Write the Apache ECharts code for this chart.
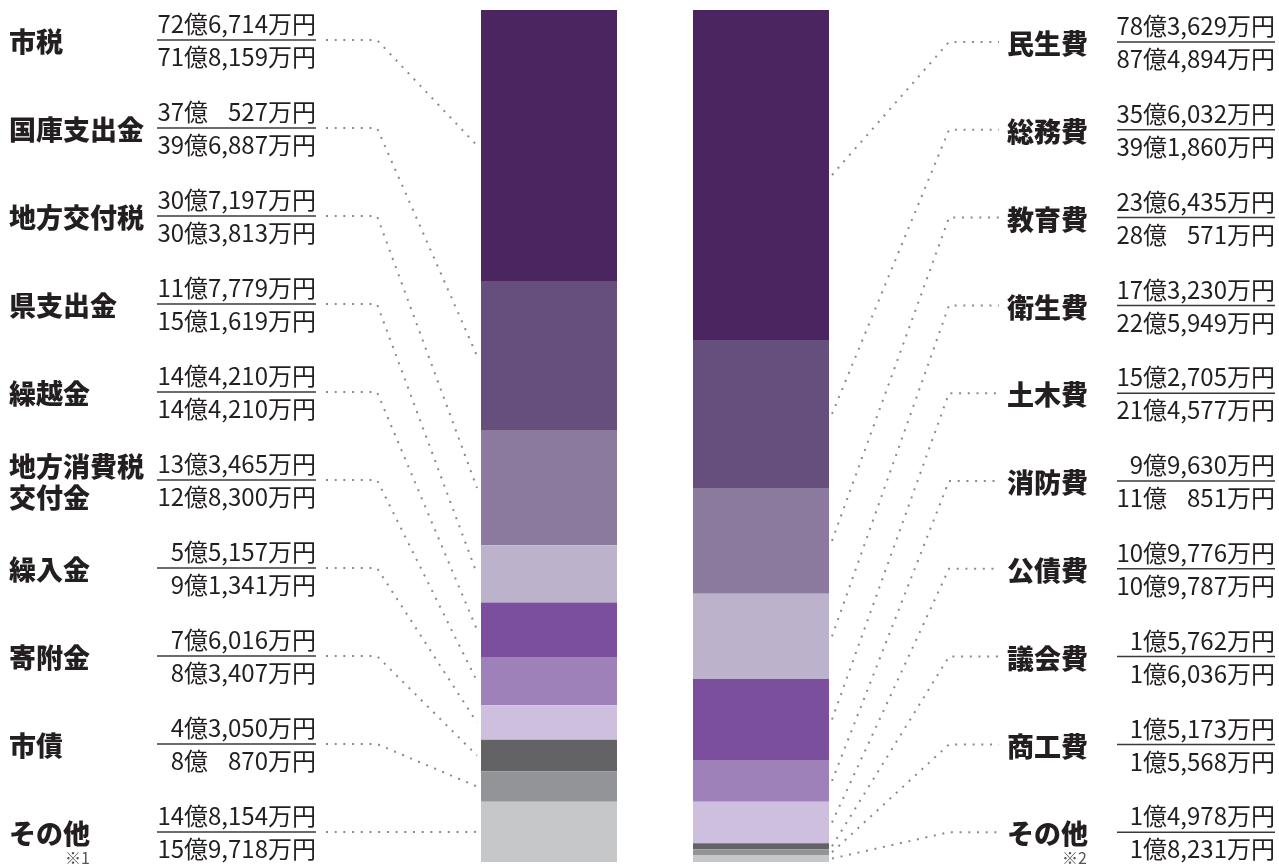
<!DOCTYPE html>
<html>
<head>
<meta charset="utf-8">
<script src="https://cdn.jsdelivr.net/npm/echarts@6/dist/echarts.min.js"></script>
<style>
html, body { margin: 0; padding: 0; background: #fff; }
#main { width: 1279px; height: 867px; }
</style>
</head>
<body>
<div id="main"></div>
<script>
// 歳入
var revNames = ["市税", "国庫支出金", "地方交付税", "県支出金", "繰越金", "地方消費税\n交付金", "繰入金", "寄附金", "市債", "その他"];
var revTop = ["72億6,714万円", "37億　527万円", "30億7,197万円", "11億7,779万円", "14億4,210万円", "13億3,465万円", "5億5,157万円", "7億6,016万円", "4億3,050万円", "14億8,154万円"];
var revBottom = ["71億8,159万円", "39億6,887万円", "30億3,813万円", "15億1,619万円", "14億4,210万円", "12億8,300万円", "9億1,341万円", "8億3,407万円", "8億　870万円", "15億9,718万円"];
var revValues = [71.8159, 39.6887, 30.3813, 15.1619, 14.4210, 12.8300, 9.1341, 8.3407, 8.0870, 15.9718];

// 歳出
var expNames = ["民生費", "総務費", "教育費", "衛生費", "土木費", "消防費", "公債費", "議会費", "商工費", "その他"];
var expTop = ["78億3,629万円", "35億6,032万円", "23億6,435万円", "17億3,230万円", "15億2,705万円", "9億9,630万円", "10億9,776万円", "1億5,762万円", "1億5,173万円", "1億4,978万円"];
var expBottom = ["87億4,894万円", "39億1,860万円", "28億　571万円", "22億5,949万円", "21億4,577万円", "11億　851万円", "10億9,787万円", "1億6,036万円", "1億5,568万円", "1億8,231万円"];
var expValues = [87.4894, 39.1860, 28.0571, 22.5949, 21.4577, 11.0851, 10.9787, 1.6036, 1.5568, 1.8231];

var notes = ["※1", "※2"];

var colors = ["#4a2560", "#664f7d", "#8b7a9e", "#bdb2cc", "#7c4e9e", "#9f81b9", "#cebfdf", "#636365", "#939497", "#c6c7c9"];

var total = revValues.reduce(function (a, b) { return a + b; }, 0);

function mids(vals) {
  var out = [], acc = 0;
  vals.forEach(function (v) { out.push(acc + v / 2); acc += v; });
  return out;
}
var revMid = mids(revValues);
var expMid = mids(expValues);

var nameFont = "900 27px 'Noto Sans CJK JP'";
var valFont = "24px 'Noto Sans CJK JP'";
var noteFont = "16px 'Noto Sans CJK JP'";
var textColor = "#231f20";
var dotStyle = { stroke: "#8a8a8a", lineWidth: 2, lineDash: [2, 6.7], fill: null };

// 全角スペースは少し狭くして桁をそろえる
function valText(s, x, y) {
  return {
    type: "text",
    style: {
      text: s.replace("　", "{sp|　}"),
      rich: { sp: { font: "20px 'Noto Sans CJK JP'" } },
      x: x, y: y, font: valFont, fill: textColor, align: "right", verticalAlign: "middle"
    }
  };
}

var myChart = echarts.init(document.getElementById("main"));

var series = [];
for (var i = 0; i < revValues.length; i++) {
  series.push({
    type: "bar",
    name: revNames[i],
    stack: "total",
    barWidth: 136,
    data: [revValues[i], expValues[i]],
    itemStyle: { color: colors[i] },
    silent: true
  });
}

var labelData = [];
revMid.forEach(function (m, i) { labelData.push([0, i, m]); });
expMid.forEach(function (m, i) { labelData.push([1, i, m]); });

series.push({
  type: "custom",
  silent: true,
  z: 10,
  data: labelData,
  renderItem: function (params, api) {
    var side = api.value(0), i = api.value(1), mid = api.value(2);
    var pt = api.coord([side, mid]);
    var kids = [];
    if (side === 0) {
      var y = 40 + 88 * i;
      kids.push({ type: "polyline", shape: { points: [[326, y], [377, y], [pt[0] - 72, pt[1]]] }, style: dotStyle });
      kids.push({ type: "text", style: { text: revNames[i], x: 9, y: y + 2, font: nameFont, fill: textColor, verticalAlign: "middle", lineHeight: 31 } });
      kids.push({ type: "line", shape: { x1: 157, y1: y, x2: 316, y2: y }, style: { stroke: "#3a3a3a", lineWidth: 1.5 } });
      kids.push(valText(revTop[i], 316, y - 16));
      kids.push(valText(revBottom[i], 316, y + 17));
      if (i === revNames.length - 1) {
        kids.push({ type: "text", style: { text: notes[0], x: 65, y: 858, font: noteFont, fill: "#555", verticalAlign: "middle" } });
      }
    } else {
      var y2 = 42 + 87.8 * i;
      kids.push({ type: "polyline", shape: { points: [[pt[0] + 71, pt[1]], [949, y2], [999, y2]] }, style: dotStyle });
      kids.push({ type: "text", style: { text: expNames[i], x: 1007, y: y2 + 2, font: nameFont, fill: textColor, verticalAlign: "middle" } });
      kids.push({ type: "line", shape: { x1: 1117, y1: y2, x2: 1275, y2: y2 }, style: { stroke: "#3a3a3a", lineWidth: 1.5 } });
      kids.push(valText(expTop[i], 1275, y2 - 16));
      kids.push(valText(expBottom[i], 1275, y2 + 17));
      if (i === expNames.length - 1) {
        kids.push({ type: "text", style: { text: notes[1], x: 1062, y: 858, font: noteFont, fill: "#555", verticalAlign: "middle" } });
      }
    }
    return { type: "group", children: kids };
  }
});

var option = {
  animation: false,
  grid: { left: 443, right: 412, top: 10, bottom: 5 },
  xAxis: { type: "category", data: ["歳入", "歳出"], show: false },
  yAxis: { type: "value", inverse: true, min: 0, max: total, show: false },
  series: series
};

option && myChart.setOption(option);
</script>
</body>
</html>
